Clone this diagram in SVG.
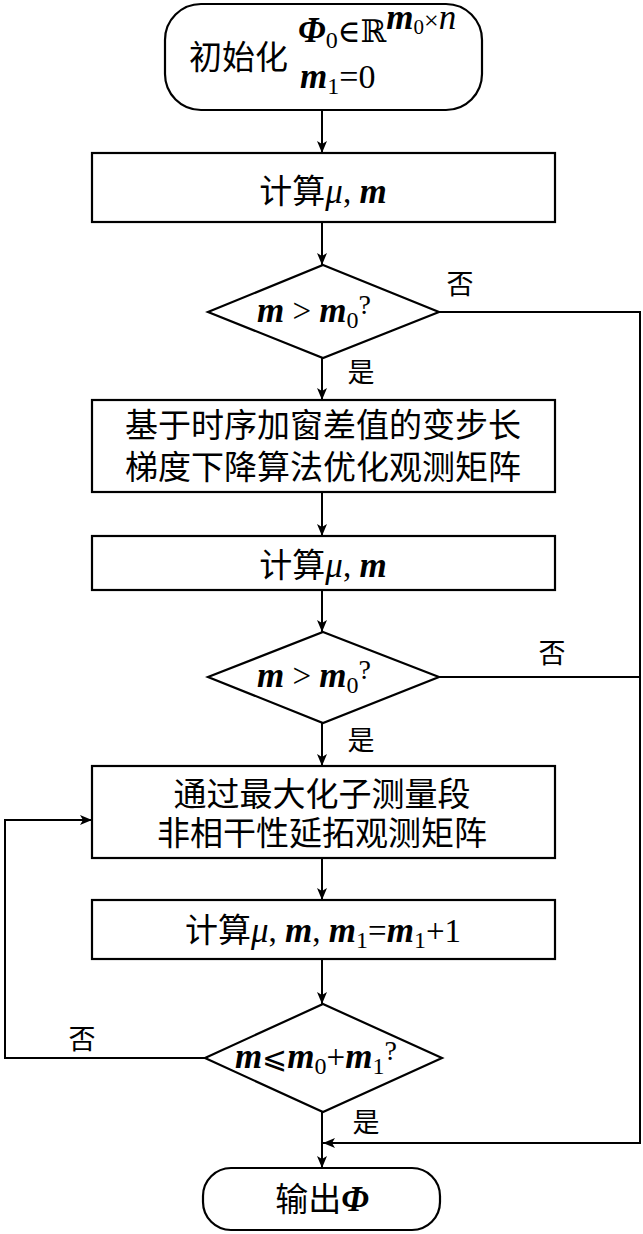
<svg xmlns="http://www.w3.org/2000/svg" width="643" height="1234" viewBox="0 0 643 1234">
<style>
.shape{fill:#fff;stroke:#000;stroke-width:2.2}
.cn{font-family:"Liberation Serif","Noto Sans CJK SC",serif;font-size:33px;fill:#000}
.lbl{font-family:"Liberation Serif","Noto Sans CJK SC",serif;font-size:27px;fill:#000}
.mi{font-style:italic;font-weight:bold;font-size:35px}
.it{font-style:italic;font-size:35px}
.sub{font-size:24px}
.conn{fill:none;stroke:#000;stroke-width:2}
</style>
<defs>
<marker id="ah" viewBox="0 0 12 10" refX="12" refY="5" markerWidth="12" markerHeight="10" markerUnits="userSpaceOnUse" orient="auto">
<path d="M0,0 L12,5 L0,10 L3,5 Z" fill="#000"/>
</marker>
</defs>
<g id="connectors">
<line class="conn" x1="322" y1="110" x2="322" y2="153" marker-end="url(#ah)"/>
<line class="conn" x1="322" y1="222" x2="322" y2="265" marker-end="url(#ah)"/>
<line class="conn" x1="322" y1="358" x2="322" y2="400" marker-end="url(#ah)"/>
<line class="conn" x1="322" y1="492" x2="322" y2="536" marker-end="url(#ah)"/>
<line class="conn" x1="322" y1="590" x2="322" y2="632" marker-end="url(#ah)"/>
<line class="conn" x1="322" y1="723" x2="322" y2="766" marker-end="url(#ah)"/>
<line class="conn" x1="322" y1="858" x2="322" y2="900" marker-end="url(#ah)"/>
<line class="conn" x1="322" y1="959" x2="322" y2="1004" marker-end="url(#ah)"/>
<line class="conn" x1="322" y1="1112" x2="322" y2="1168" marker-end="url(#ah)"/>
<polyline class="conn" points="205,1058 5,1058 5,820 92,820" marker-end="url(#ah)"/>
<polyline class="conn" points="439,312 640,312 640,1143 323,1143" marker-end="url(#ah)"/>
<line class="conn" x1="439" y1="677" x2="640" y2="677"/>
<text class="lbl" x="460" y="294" text-anchor="middle">否</text>
<text class="lbl" x="361" y="382" text-anchor="middle">是</text>
<text class="lbl" x="552" y="663" text-anchor="middle">否</text>
<text class="lbl" x="361" y="750" text-anchor="middle">是</text>
<text class="lbl" x="82" y="1049" text-anchor="middle">否</text>
<text class="lbl" x="366" y="1132" text-anchor="middle">是</text>
</g>
<g id="start">
<rect class="shape" x="165" y="4" width="317" height="106" rx="36" ry="36"/>
<text class="cn" x="189" y="69" font-size="34">初始化</text>
<text class="cn" x="298" y="42"><tspan class="mi" font-size="33">Φ</tspan><tspan class="sub" font-size="25" dy="6">0</tspan><tspan dy="-6" font-family="DejaVu Serif" font-size="31">∈ℝ</tspan><tspan class="it" font-weight="bold" font-size="26" dy="-13">m</tspan><tspan font-size="21" dy="5">0</tspan><tspan font-size="26" dy="-5">×</tspan><tspan class="it" font-size="26">n</tspan></text>
<text class="cn" x="300" y="88"><tspan class="mi">m</tspan><tspan class="sub" dy="6">1</tspan><tspan dy="-6" font-size="34">=0</tspan></text>
</g>
<g id="calc1">
<rect class="shape" x="92" y="153" width="463" height="69"/>
<text class="cn" x="323" y="203" text-anchor="middle">计算<tspan class="it">μ</tspan>, <tspan class="mi">m</tspan></text>
</g>
<g id="dec1">
<polygon class="shape" points="323,265 439,312 323,358 208,312"/>
<text class="cn" x="314" y="322" text-anchor="middle"><tspan class="mi">m</tspan> &gt; <tspan class="mi">m</tspan><tspan class="sub" dy="6">0</tspan><tspan dy="-14" font-size="28">?</tspan></text>
</g>
<g id="optimize">
<rect class="shape" x="92" y="400" width="463" height="92"/>
<text class="cn" x="323" y="437" text-anchor="middle" font-size="34">基于时序加窗差值的变步长</text>
<text class="cn" x="323" y="479" text-anchor="middle" font-size="34">梯度下降算法优化观测矩阵</text>
</g>
<g id="calc2">
<rect class="shape" x="92" y="536" width="463" height="54"/>
<text class="cn" x="323" y="577" text-anchor="middle">计算<tspan class="it">μ</tspan>, <tspan class="mi">m</tspan></text>
</g>
<g id="dec2">
<polygon class="shape" points="323,632 439,677 323,723 208,677"/>
<text class="cn" x="314" y="687" text-anchor="middle"><tspan class="mi">m</tspan> &gt; <tspan class="mi">m</tspan><tspan class="sub" dy="6">0</tspan><tspan dy="-14" font-size="28">?</tspan></text>
</g>
<g id="extend">
<rect class="shape" x="92" y="766" width="463" height="92"/>
<text class="cn" x="322" y="806" text-anchor="middle" font-size="34">通过最大化子测量段</text>
<text class="cn" x="322" y="845" text-anchor="middle" font-size="34">非相干性延拓观测矩阵</text>
</g>
<g id="calc3">
<rect class="shape" x="92" y="900" width="463" height="59"/>
<text class="cn" x="323" y="942" text-anchor="middle">计算<tspan class="it">μ</tspan>, <tspan class="mi">m</tspan>, <tspan class="mi">m</tspan><tspan class="sub" dy="6">1</tspan><tspan dy="-6">=</tspan><tspan class="mi">m</tspan><tspan class="sub" dy="6">1</tspan><tspan dy="-6">+1</tspan></text>
</g>
<g id="dec3">
<polygon class="shape" points="323,1004 442,1058 323,1112 205,1058"/>
<text class="cn" x="316" y="1068" text-anchor="middle"><tspan class="mi">m</tspan><tspan font-family="DejaVu Serif" font-size="30">⩽</tspan><tspan class="mi">m</tspan><tspan class="sub" dy="6">0</tspan><tspan dy="-6">+</tspan><tspan class="mi">m</tspan><tspan class="sub" dy="6">1</tspan><tspan dy="-14" font-size="28">?</tspan></text>
</g>
<g id="end">
<rect class="shape" x="203" y="1168" width="237" height="62" rx="28" ry="28"/>
<text class="cn" x="322" y="1211" text-anchor="middle">输出<tspan class="mi">Φ</tspan></text>
</g>
</svg>
